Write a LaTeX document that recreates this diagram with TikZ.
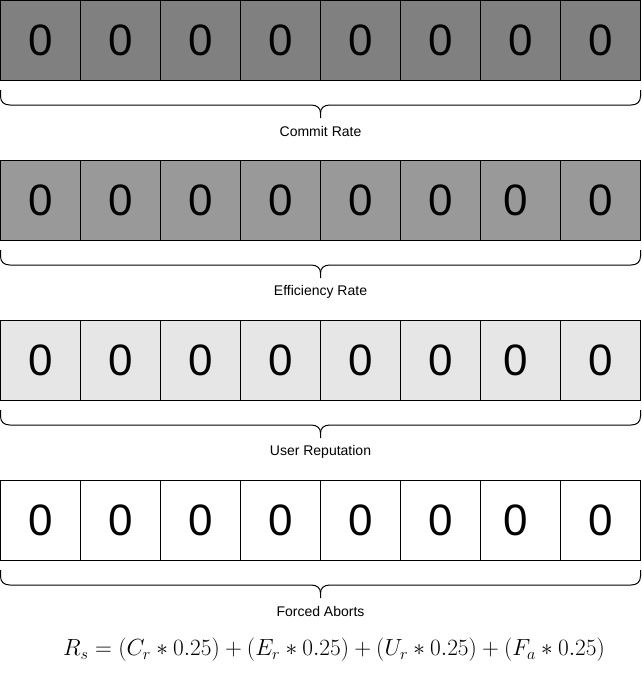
\documentclass[tikz,border=0pt]{standalone}
\usepackage{fontspec}
\setmainfont{Liberation Sans}
\begin{document}
\begin{tikzpicture}[x=1pt,y=-1pt,
  cell/.style={draw=black, line width=1pt, minimum width=80pt, minimum height=80pt, inner sep=0pt, outer sep=0pt},
  digit/.style={inner sep=0pt, font=\fontsize{44}{44}\selectfont},
  bracepath/.style={draw=black, line width=1pt},
  lbl/.style={inner sep=0pt, font=\fontsize{14}{16}\selectfont},
  formula/.style={inner sep=0pt, font=\fontsize{20}{24}\selectfont}]
\useasboundingbox (0,0) rectangle (641,681);
\definecolor{rowA}{HTML}{808080}
\definecolor{rowB}{HTML}{999999}
\definecolor{rowC}{HTML}{E6E6E6}
\definecolor{rowD}{HTML}{FFFFFF}
\foreach \r/\col/\name in {0/rowA/Commit Rate,1/rowB/Efficiency Rate,2/rowC/User Reputation,3/rowD/Forced Aborts}{
  \pgfmathsetmacro{\yo}{160*\r}
  \foreach \i in {0,...,7}{
    \node[cell, fill=\col] (c\r\i) at (40.5+80*\i, \yo+40.5) {};
  }
  \foreach \i in {0,...,5}{
    \node[digit] (d\r\i) at (c\r\i) {0};
  }
  \ifnum\r=0
    \node[digit] (d\r6) at (c\r6) {0};
  \else
    \node[digit] (d\r6) at ([xshift=-5pt]c\r6.center) {0};
  \fi
  \node[digit] (d\r7) at (c\r7) {0};
  \coordinate (bl\r) at (0.5, \yo+90);
  \coordinate (br\r) at (640.5, \yo+90);
  \coordinate (bt\r) at (320.5, \yo+118);
  \draw[bracepath] (bl\r) -- ++(0,6) .. controls +(0,6) and +(-6,0) .. ++(9.5,9) -- (311,\yo+105)
     .. controls +(6,0) and +(0,-5) .. (320.5,\yo+113) -- (bt\r);
  \draw[bracepath] (br\r) -- ++(0,6) .. controls +(0,6) and +(6,0) .. ++(-9.5,9) -- (330,\yo+105)
     .. controls +(-6,0) and +(0,-5) .. (320.5,\yo+113);
  \node[lbl] (l\r) at (320.5, \yo+131.5) {\name};
}
\node[formula] (f) at (334, 650) {\scalebox{1.125}{$R_s = (C_r * 0.25) + (E_r * 0.25) + (U_r * 0.25) + (F_a * 0.25)$}};
\end{tikzpicture}
\end{document}
